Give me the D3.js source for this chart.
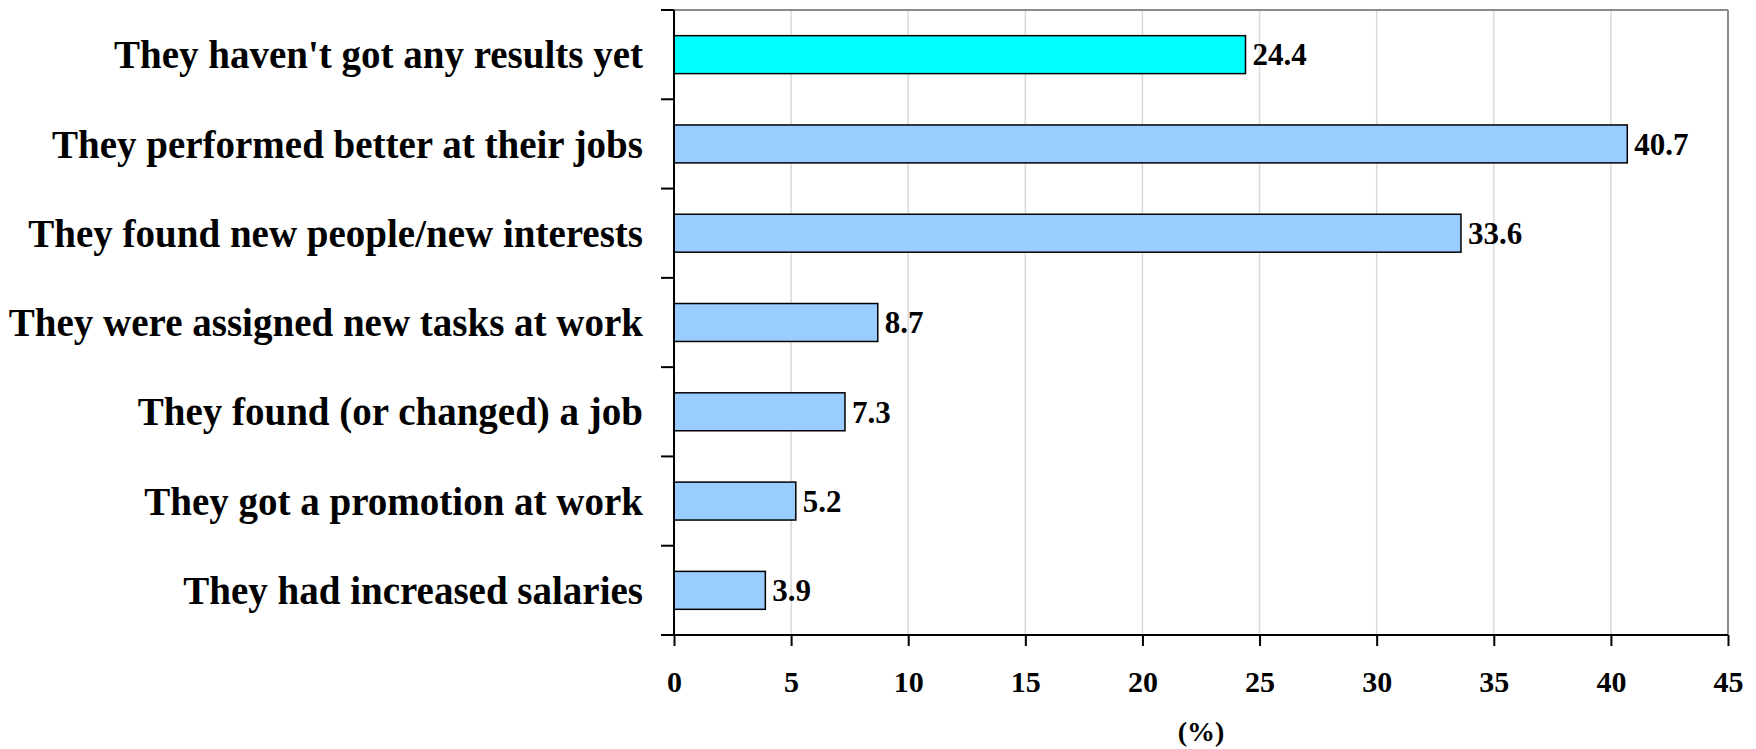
<!DOCTYPE html>
<html>
<head>
<meta charset="utf-8">
<script src="https://cdn.jsdelivr.net/npm/d3@7"></script>
<style>
html,body{margin:0;padding:0;background:#fff;}
svg text{font-family:"Liberation Serif","Times New Roman",serif;font-weight:bold;fill:#000;}
</style>
</head>
<body>
<svg id="chart" width="1756" height="749"></svg>
<script>
const categories = [
  "They haven't got any results yet",
  "They performed better at their jobs",
  "They found new people/new interests",
  "They were assigned new tasks at work",
  "They found (or changed) a job",
  "They got a promotion at work",
  "They had increased salaries"
];
const values = [24.4, 40.7, 33.6, 8.7, 7.3, 5.2, 3.9];
const valueLabels = ["24.4", "40.7", "33.6", "8.7", "7.3", "5.2", "3.9"];
const xTicks = [0, 5, 10, 15, 20, 25, 30, 35, 40, 45];
const axisTitle = "(%)";

const svg = d3.select("#chart");
const L = 674, R = 1728, T = 10, B = 635;

const x = d3.scaleLinear().domain([0, 45]).range([L, R]);
const y = d3.scaleBand().domain(categories).range([T, B]).paddingInner(0.575).paddingOuter(0.2875);
const step = y.step();

// gridlines
svg.append("g").selectAll("line").data(xTicks.filter(t => t > 0 && t < 45)).join("line")
  .attr("x1", d => x(d)).attr("x2", d => x(d)).attr("y1", T).attr("y2", B)
  .attr("stroke", "#d9d9d9").attr("stroke-width", 1.5);

// frame top & right
svg.append("line").attr("x1", L).attr("x2", R).attr("y1", T).attr("y2", T).attr("stroke", "#8c8c8c").attr("stroke-width", 2);
svg.append("line").attr("x1", R).attr("x2", R).attr("y1", T).attr("y2", B).attr("stroke", "#8c8c8c").attr("stroke-width", 2);

// bars
svg.append("g").selectAll("rect").data(categories).join("rect")
  .attr("x", x(0))
  .attr("y", d => y(d))
  .attr("width", (d, i) => x(values[i]) - x(0))
  .attr("height", y.bandwidth())
  .attr("fill", (d, i) => i === 0 ? "#00ffff" : "#99ccff")
  .attr("stroke", "#000").attr("stroke-width", 1.5);

// value labels
svg.append("g").selectAll("text").data(categories).join("text")
  .attr("x", (d, i) => x(values[i]) + 7)
  .attr("y", d => y(d) + y.bandwidth() / 2)
  .attr("dy", "0.35em")
  .attr("font-size", 31)
  .text((d, i) => valueLabels[i]);

// y axis
const yAxis = svg.append("g");
yAxis.append("line").attr("x1", L).attr("x2", L).attr("y1", T).attr("y2", B).attr("stroke", "#000").attr("stroke-width", 2);
yAxis.selectAll("line.tk").data(d3.range(categories.length + 1)).join("line").attr("class", "tk")
  .attr("x1", L - 13).attr("x2", L)
  .attr("y1", i => T + i * step).attr("y2", i => T + i * step)
  .attr("stroke", "#000").attr("stroke-width", 2);
yAxis.selectAll("text").data(categories).join("text")
  .attr("x", 643)
  .attr("y", d => y(d) + y.bandwidth() / 2)
  .attr("dy", "0.35em")
  .attr("text-anchor", "end")
  .attr("font-size", 39)
  .text(d => d);

// x axis
const xAxis = svg.append("g").attr("transform", `translate(0,${B})`)
  .call(d3.axisBottom(x).tickValues(xTicks).tickSize(11).tickPadding(25).tickFormat(d3.format("d")));
xAxis.select(".domain").attr("stroke", "#000").attr("stroke-width", 2).attr("d", `M${L - 13},0H${R}`);
xAxis.selectAll(".tick line").attr("stroke", "#000").attr("stroke-width", 2);
xAxis.selectAll(".tick text").attr("font-size", 30).attr("font-family", "Liberation Serif").attr("font-weight", "bold").attr("fill", "#000");

svg.append("text").attr("x", (L + R) / 2).attr("y", 731).attr("dy", "0.35em")
  .attr("text-anchor", "middle").attr("font-size", 28).text(axisTitle);
</script>
</body>
</html>
